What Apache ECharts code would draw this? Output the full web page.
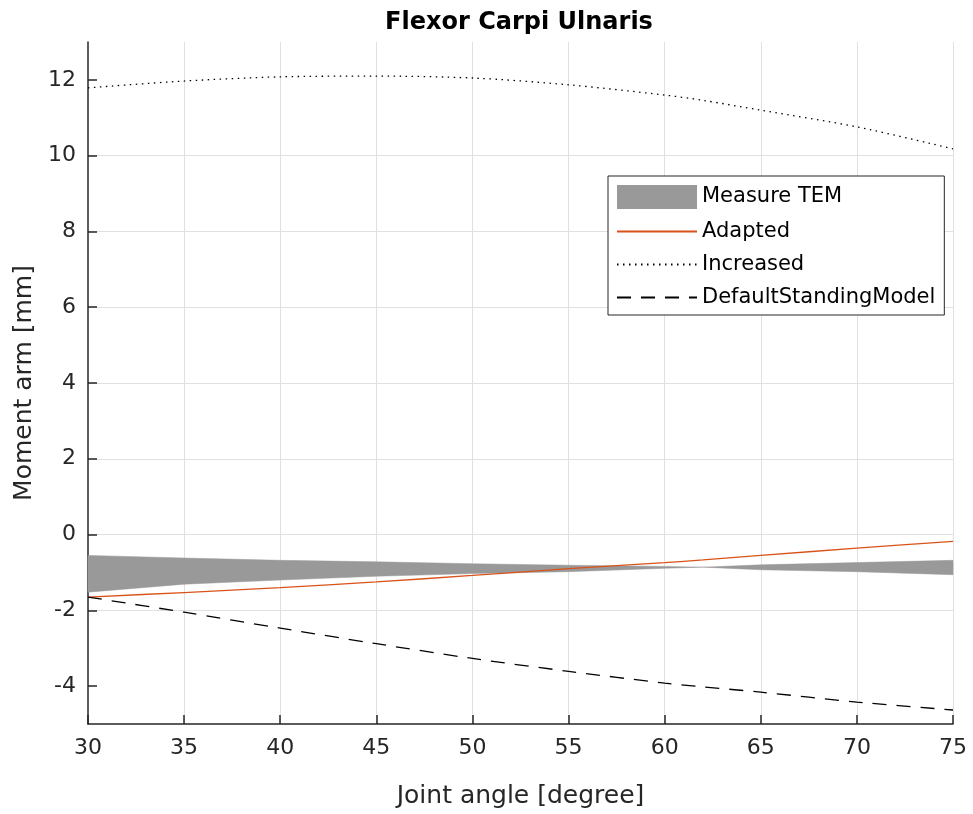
<!DOCTYPE html>
<html><head><meta charset="utf-8">
<script src="https://cdn.jsdelivr.net/npm/echarts@6/dist/echarts.min.js"></script>
<style>html,body{margin:0;padding:0;background:#fff}#c{width:973px;height:814px}</style>
</head><body><div id="c"></div>
<script>
const angles = [30,35,40,45,50,55,60,62,65,70,75];
const temLower = [-1.52,-1.31,-1.20,-1.10,-1.03,-0.98,-0.89,-0.86,-0.93,-0.98,-1.06];
const temUpper = [-0.55,-0.62,-0.68,-0.72,-0.77,-0.81,-0.84,-0.86,-0.80,-0.74,-0.68];
const adapted = [-1.65,-1.53,-1.40,-1.25,-1.08,-0.90,-0.74,-0.67,-0.55,-0.36,-0.18];
const increased = [11.79,11.97,12.08,12.10,12.05,11.87,11.60,11.46,11.20,10.76,10.18];
const defaultModel = [-1.65,-2.05,-2.47,-2.88,-3.27,-3.61,-3.92,-4.02,-4.16,-4.42,-4.63];
const xTicks = [30,35,40,45,50,55,60,65,70,75];
const yTicks = [-4,-2,0,2,4,6,8,10,12];

const pair = (ys) => angles.map((a,i)=>[a, ys[i]]);
const band = angles.map((a,i)=>[a, temLower[i], temUpper[i]]);
const font = 'DejaVu Sans, sans-serif';
const txt = '#262626';
const gray = '#999999';

const chart = echarts.init(document.getElementById('c'), null, {renderer:'canvas'});
chart.setOption({
  animation:false,
  title:{text:'Flexor Carpi Ulnaris', left:514, top:6, textAlign:'center',
    textStyle:{fontFamily:font, fontWeight:'bold', fontSize:24, color:'#000'}},
  grid:{left:88, right:20, top:42, bottom:89, containLabel:false},
  legend:{
    orient:'vertical', left:608, top:176,
    backgroundColor:'#fff', borderColor:'#262626', borderWidth:1,
    padding:[9,9,7,8], itemWidth:80, itemHeight:24, itemGap:12,
    textStyle:{fontFamily:font, fontSize:21, color:'#000'},
    data:[
      {name:'Measure TEM', icon:'rect', itemStyle:{color:gray, opacity:1}},
      {name:'Adapted', itemStyle:{opacity:0}},
      {name:'Increased', itemStyle:{opacity:0}},
      {name:'DefaultStandingModel', itemStyle:{opacity:0}}
    ]
  },
  xAxis:{type:'value', min:30, max:75, interval:5,
    name:'Joint angle [degree]', nameLocation:'middle', nameGap:60,
    nameTextStyle:{fontFamily:font, fontSize:25, color:txt},
    axisLine:{show:true, onZero:false, lineStyle:{color:txt, width:1.5}},
    axisTick:{show:true, inside:true, length:9, lineStyle:{color:txt, width:1.5}},
    axisLabel:{fontFamily:font, fontSize:22, color:txt, margin:13, customValues:xTicks},
    splitLine:{show:true, showMinLine:false, showMaxLine:true, lineStyle:{color:'#e0e0e0', width:1}}
  },
  yAxis:{type:'value', min:-5, max:13, splitNumber:9,
    name:'Moment arm [mm]', nameLocation:'middle', nameGap:39,
    nameTextStyle:{fontFamily:font, fontSize:25, color:txt},
    axisLine:{show:true, onZero:false, lineStyle:{color:txt, width:1.5}},
    axisTick:{show:true, inside:true, length:9, lineStyle:{color:txt, width:1.5}, customValues:yTicks},
    axisLabel:{fontFamily:font, fontSize:22, color:txt, margin:12, customValues:yTicks},
    splitLine:{show:true, showMinLine:false, showMaxLine:false, lineStyle:{color:'#e0e0e0', width:1}}
  },
  series:[
    {name:'Measure TEM', type:'custom', data:band, encode:{x:0, y:[1,2]},
      itemStyle:{color:gray}, z:2, silent:true,
      renderItem:function(params, api){
        if (params.dataIndex !== 0) return;
        const pts = [];
        for (let i=0;i<band.length;i++) pts.push(api.coord([band[i][0], band[i][2]]));
        for (let i=band.length-1;i>=0;i--) pts.push(api.coord([band[i][0], band[i][1]]));
        return {type:'polygon', shape:{points:pts, smooth:0}, style:{fill:gray, stroke:gray, lineWidth:0.5}};
      }},
    {name:'Adapted', type:'line', data:pair(adapted), symbol:'none', smooth:0.3,
      lineStyle:{color:'#D95319', width:1.3}, itemStyle:{color:'#D95319'}, z:3},
    {name:'Increased', type:'line', data:pair(increased), symbol:'none', smooth:0.3,
      lineStyle:{color:'#000', width:1.3, type:[1.5,4.5]}, itemStyle:{color:'#000'}, z:3},
    {name:'DefaultStandingModel', type:'line', data:pair(defaultModel), symbol:'none', smooth:0.3,
      lineStyle:{color:'#000', width:1.3, type:[14,10]}, itemStyle:{color:'#000'}, z:3}
  ]
});
</script></body></html>
